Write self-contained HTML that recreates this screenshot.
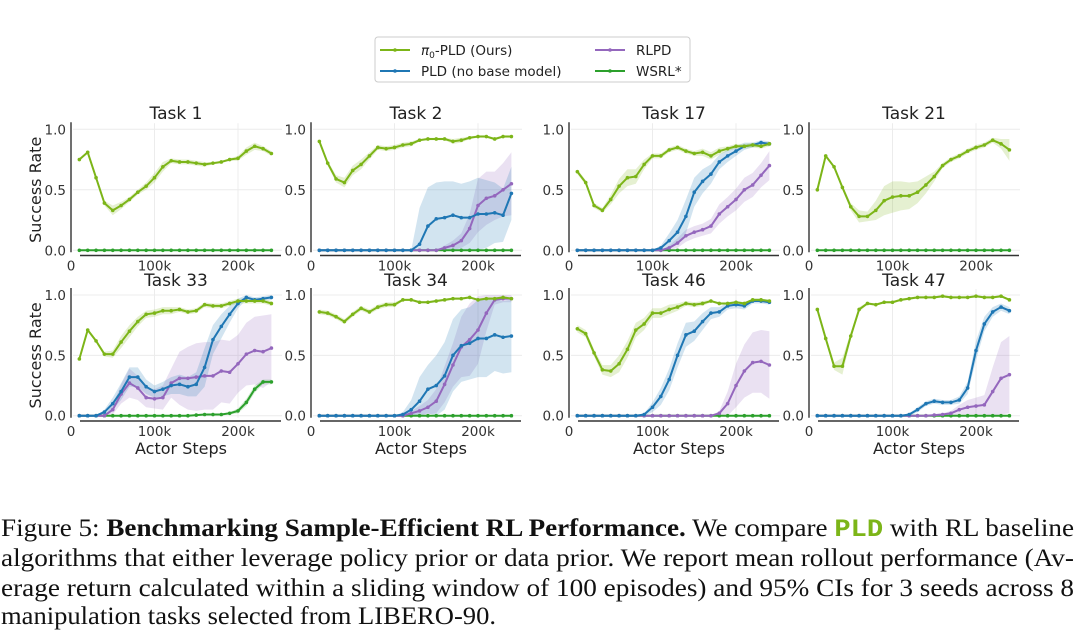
<!DOCTYPE html>
<html><head><meta charset="utf-8"><style>
html,body{margin:0;padding:0;background:#fff;}
svg{display:block;}
</style></head><body>
<svg id="fig" width="1080" height="630" viewBox="0 0 1080 630" xmlns="http://www.w3.org/2000/svg" font-family="'DejaVu Sans','Liberation Sans',sans-serif">
<g id="legend">
<rect x="375" y="37" width="315" height="45" rx="3" fill="#fff" stroke="#ccc" stroke-width="1"/>
<line x1="380" y1="50" x2="410" y2="50" stroke="#7cb518" stroke-width="2"/><circle cx="395" cy="50" r="1.8" fill="#7cb518"/>
<text x="421" y="55" font-size="13.5" fill="#222"><tspan font-style="italic">π</tspan><tspan font-size="9" dy="3">0</tspan><tspan dy="-3">-PLD (Ours)</tspan></text>
<line x1="380" y1="71" x2="410" y2="71" stroke="#1f77b4" stroke-width="2"/><circle cx="395" cy="71" r="1.8" fill="#1f77b4"/>
<text x="421" y="76" font-size="13.5" fill="#222">PLD (no base model)</text>
<line x1="595" y1="50" x2="625" y2="50" stroke="#9467bd" stroke-width="2"/><circle cx="610" cy="50" r="1.8" fill="#9467bd"/>
<text x="636" y="55" font-size="13.5" fill="#222">RLPD</text>
<line x1="595" y1="71" x2="625" y2="71" stroke="#2ca02c" stroke-width="2"/><circle cx="610" cy="71" r="1.8" fill="#2ca02c"/>
<text x="636" y="76" font-size="13.5" fill="#222">WSRL*</text>
</g>
<g id="panels"></g>
<g id="caption" font-family="'Liberation Serif',serif" font-size="25" fill="#111">
<text x="1" y="536" textLength="1073" lengthAdjust="spacingAndGlyphs">Figure 5: <tspan font-weight="bold">Benchmarking Sample-Efficient RL Performance.</tspan> We compare <tspan font-family="'Liberation Mono',monospace" font-weight="bold" fill="#7cb518">PLD</tspan> with RL baseline</text>
<text x="1" y="566" textLength="1073" lengthAdjust="spacingAndGlyphs">algorithms that either leverage policy prior or data prior. We report mean rollout performance (Av-</text>
<text x="1" y="596" textLength="1073" lengthAdjust="spacingAndGlyphs">erage return calculated within a sliding window of 100 episodes) and 95% CIs for 3 seeds across 8</text>
<text x="1" y="624" textLength="495" lengthAdjust="spacingAndGlyphs">manipulation tasks selected from LIBERO-90.</text>
</g>
</svg>
<script>
const steps = [10,20,30,40,50,60,70,80,90,100,110,120,130,140,150,160,170,180,190,200,210,220,230,240];
const tasks = ["Task 1","Task 2","Task 17","Task 21","Task 33","Task 34","Task 46","Task 47"];
const xTicks = [0,100,200];
const xTickLabels = ["0","100k","200k"];
const yTicks = [0,0.5,1.0];
const yTickLabels = ["0.0","0.5","1.0"];
const Z = [0,0,0,0,0,0,0,0,0,0,0,0,0,0,0,0,0,0,0,0,0,0,0,0];
const ZC = [0,0,0,0,0,0,0,0,0,0,0,0,0,0,0,0,0,0,0,0,0,0,0,0];
const ours = [
[0.75,0.81,0.6,0.39,0.33,0.37,0.42,0.48,0.53,0.6,0.69,0.74,0.73,0.73,0.72,0.71,0.72,0.73,0.75,0.76,0.82,0.86,0.84,0.80],
[0.9,0.72,0.59,0.56,0.66,0.71,0.78,0.85,0.84,0.85,0.87,0.88,0.91,0.92,0.92,0.92,0.90,0.91,0.93,0.94,0.94,0.92,0.94,0.94],
[0.65,0.56,0.37,0.33,0.42,0.53,0.60,0.61,0.71,0.78,0.78,0.83,0.85,0.82,0.80,0.81,0.78,0.82,0.84,0.86,0.86,0.87,0.86,0.88],
[0.5,0.78,0.69,0.52,0.36,0.28,0.28,0.33,0.41,0.44,0.45,0.45,0.48,0.54,0.61,0.7,0.75,0.78,0.82,0.85,0.87,0.91,0.88,0.83],
[0.47,0.71,0.62,0.51,0.51,0.61,0.70,0.78,0.84,0.85,0.87,0.87,0.88,0.86,0.87,0.92,0.91,0.91,0.93,0.95,0.95,0.95,0.95,0.93],
[0.86,0.85,0.82,0.78,0.84,0.89,0.86,0.9,0.92,0.92,0.96,0.96,0.94,0.94,0.95,0.96,0.97,0.97,0.98,0.96,0.97,0.97,0.98,0.97],
[0.72,0.68,0.52,0.38,0.37,0.43,0.55,0.71,0.76,0.85,0.85,0.88,0.90,0.93,0.92,0.93,0.95,0.93,0.93,0.94,0.93,0.96,0.96,0.95],
[0.88,0.64,0.41,0.41,0.66,0.88,0.93,0.92,0.94,0.94,0.96,0.97,0.98,0.98,0.98,0.99,0.98,0.98,0.98,0.99,0.98,0.98,0.99,0.96]];
const oursCI = [
[0.01,0.01,0.01,0.02,0.04,0.03,0.02,0.02,0.03,0.04,0.04,0.02,0.02,0.02,0.02,0.02,0.01,0.01,0.01,0.02,0.03,0.03,0.02,0.02],
[0.01,0.02,0.03,0.04,0.04,0.04,0.03,0.02,0.02,0.02,0.02,0.02,0.01,0.01,0.01,0.01,0.02,0.02,0.01,0.01,0.01,0.01,0.01,0.01],
[0.02,0.02,0.02,0.02,0.04,0.06,0.07,0.06,0.04,0.02,0.02,0.02,0.02,0.02,0.02,0.03,0.03,0.03,0.02,0.02,0.02,0.02,0.02,0.02],
[0.01,0.01,0.01,0.02,0.03,0.05,0.04,0.08,0.12,0.13,0.12,0.11,0.09,0.07,0.04,0.02,0.02,0.02,0.02,0.02,0.02,0.02,0.04,0.09],
[0.01,0.01,0.01,0.02,0.03,0.05,0.05,0.04,0.03,0.03,0.03,0.03,0.02,0.02,0.02,0.02,0.02,0.02,0.02,0.02,0.02,0.02,0.02,0.02],
[0.02,0.02,0.02,0.02,0.02,0.02,0.02,0.02,0.02,0.02,0.01,0.01,0.01,0.01,0.01,0.01,0.01,0.01,0.01,0.01,0.01,0.01,0.01,0.01],
[0.03,0.03,0.03,0.04,0.05,0.07,0.07,0.06,0.05,0.04,0.04,0.04,0.03,0.02,0.02,0.02,0.01,0.01,0.01,0.01,0.01,0.01,0.01,0.01],
[0.01,0.02,0.03,0.07,0.03,0.02,0.01,0.01,0.01,0.01,0.01,0.01,0.01,0.01,0.01,0.01,0.01,0.01,0.01,0.01,0.01,0.01,0.01,0.01]];
const pld = [
null,
[0,0,0,0,0,0,0,0,0,0,0,0,0.05,0.2,0.26,0.27,0.29,0.27,0.27,0.30,0.30,0.31,0.29,0.47],
[0,0,0,0,0,0,0,0,0,0,0.02,0.08,0.15,0.28,0.48,0.57,0.63,0.73,0.78,0.82,0.86,0.87,0.89,0.88],
null,
[0,0,0,0.03,0.1,0.2,0.32,0.32,0.24,0.2,0.22,0.25,0.26,0.24,0.26,0.4,0.63,0.74,0.84,0.93,0.98,0.96,0.97,0.98],
[0,0,0,0,0,0,0,0,0,0,0.01,0.05,0.12,0.22,0.25,0.33,0.5,0.58,0.6,0.64,0.64,0.67,0.65,0.66],
[0,0,0,0,0,0,0,0,0.01,0.07,0.16,0.3,0.5,0.67,0.7,0.78,0.85,0.86,0.91,0.92,0.91,0.95,0.95,0.94],
[0,0,0,0,0,0,0,0,0,0,0,0.01,0.05,0.1,0.12,0.11,0.11,0.13,0.23,0.54,0.76,0.86,0.9,0.87]];
const pldCI = [
null,
[0,0,0,0,0,0,0,0,0,0,0,0,0.3,0.32,0.3,0.3,0.28,0.28,0.3,0.3,0.28,0.25,0.22,0.22],
[0,0,0,0,0,0,0,0,0,0,0.02,0.06,0.1,0.14,0.12,0.1,0.08,0.06,0.05,0.04,0.03,0.02,0.02,0.02],
null,
[0,0,0,0.02,0.05,0.07,0.08,0.08,0.06,0.05,0.06,0.07,0.08,0.08,0.1,0.16,0.12,0.1,0.07,0.04,0.02,0.02,0.02,0.02],
[0,0,0,0,0,0,0,0,0,0,0.02,0.08,0.2,0.2,0.25,0.28,0.3,0.3,0.3,0.32,0.32,0.3,0.3,0.3],
[0,0,0,0,0,0,0,0,0.01,0.04,0.07,0.09,0.1,0.1,0.08,0.07,0.05,0.04,0.03,0.03,0.03,0.02,0.02,0.02],
[0,0,0,0,0,0,0,0,0,0,0,0.01,0.02,0.02,0.02,0.02,0.02,0.03,0.05,0.08,0.06,0.04,0.03,0.03]];
const rlpd = [
null,
[0,0,0,0,0,0,0,0,0,0,0,0,0,0,0,0.02,0.04,0.08,0.18,0.37,0.43,0.45,0.5,0.55],
[0,0,0,0,0,0,0,0,0,0,0,0.02,0.06,0.12,0.15,0.17,0.2,0.3,0.36,0.42,0.5,0.54,0.62,0.7],
null,
[0,0,0,0,0.05,0.18,0.27,0.23,0.15,0.14,0.15,0.27,0.31,0.31,0.32,0.33,0.33,0.37,0.36,0.43,0.51,0.54,0.53,0.56],
[0,0,0,0,0,0,0,0,0,0,0,0.02,0.04,0.07,0.12,0.26,0.42,0.57,0.63,0.71,0.85,0.96,0.97,0.97],
[0,0,0,0,0,0,0,0,0,0,0,0,0,0,0,0,0,0.02,0.1,0.25,0.37,0.44,0.45,0.42],
[0,0,0,0,0,0,0,0,0,0,0,0,0,0,0.005,0.01,0.02,0.05,0.07,0.08,0.09,0.2,0.31,0.34]];
const rlpdCI = [
null,
[0,0,0,0,0,0,0,0,0,0,0,0,0,0,0,0.02,0.04,0.06,0.12,0.22,0.22,0.2,0.22,0.26],
[0,0,0,0,0,0,0,0,0,0,0,0.02,0.04,0.05,0.05,0.05,0.06,0.08,0.08,0.09,0.1,0.1,0.1,0.12],
null,
[0,0,0,0,0.04,0.08,0.12,0.1,0.08,0.08,0.1,0.12,0.22,0.26,0.28,0.28,0.28,0.26,0.26,0.24,0.26,0.28,0.3,0.28],
[0,0,0,0,0,0,0,0,0,0,0,0.02,0.04,0.06,0.1,0.15,0.18,0.25,0.3,0.28,0.15,0.04,0.03,0.03],
[0,0,0,0,0,0,0,0,0,0,0,0,0,0,0,0,0,0.02,0.1,0.18,0.22,0.25,0.26,0.28],
[0,0,0,0,0,0,0,0,0,0,0,0,0,0,0.005,0.01,0.02,0.04,0.06,0.07,0.08,0.2,0.3,0.32]];
const wsrl = [Z,Z,Z,Z,
[0,0,0,0,0,0,0,0,0,0,0,0,0,0,0.005,0.01,0.01,0.01,0.02,0.04,0.11,0.22,0.28,0.28],
Z,Z,Z];
const wsrlCI = [ZC,ZC,ZC,ZC,
[0,0,0,0,0,0,0,0,0,0,0,0,0,0,0,0,0,0,0.01,0.02,0.03,0.03,0.02,0.02],
ZC,ZC,ZC];

const NS = "http://www.w3.org/2000/svg";
const panelX = [71,311,569,809];
const rowY = [{top:129.3,zero:250.3,spine:255.5},{top:295,zero:415.7,spine:421}];
const root = document.getElementById('panels');
function mk(tag, attrs, parent){const e=document.createElementNS(NS,tag);for(const k in attrs)e.setAttribute(k,attrs[k]);parent.appendChild(e);return e;}

tasks.forEach((t,i)=>{
  const r = Math.floor(i/4), c = i%4;
  const x0 = panelX[c], R = rowY[r];
  const sx = v => x0 + v*0.835;
  const sy = v => R.zero - v*(R.zero-R.top);
  const g = mk('g',{},root);
  
  
  yTicks.forEach((v,k)=>{
    const gl = mk('line',{x1:x0+2,x2:x0+211,y1:sy(v),y2:sy(v),stroke:'#ececec','stroke-width':1},g);
    
    
    const tl = mk('text',{x:x0-5,y:sy(v)+5,'font-size':13.5,'text-anchor':'end',fill:'#333'},g);
    tl.textContent = yTickLabels[k];
    
    
  });
  xTicks.forEach((v,k)=>{
    if(v>0){const gl=mk('line',{x1:sx(v),x2:sx(v),y1:R.top-6,y2:R.zero+2,stroke:'#ececec','stroke-width':1},g);
      
      }
    const tl = mk('text',{x:sx(v),y:R.spine+15,'font-size':13.5,'text-anchor':'middle',fill:'#333'},g);
    tl.textContent = xTickLabels[k];
    
    
  });
  const ls = mk('line',{x1:x0,x2:x0,y1:R.top-7,y2:R.zero+2,stroke:'#333','stroke-width':1.4},g);
  
  
  const bs = mk('line',{x1:x0+9,x2:x0+210,y1:R.spine,y2:R.spine,stroke:'#333','stroke-width':1.4},g);
  
  
  const tt = mk('text',{x:x0+105,y:r===0?119:286,'font-size':17,'text-anchor':'middle',fill:'#222'},g);
  tt.textContent = t;
  
  
  if(c===0){
    const yl = mk('text',{x:0,y:0,'font-size':16,'text-anchor':'middle',fill:'#222',transform:`translate(41,${(R.top+R.zero)/2}) rotate(-90)`},g);
    yl.textContent='Success Rate';
    
    
  }
  if(r===1){
    const xl = mk('text',{x:x0+110,y:454,'font-size':16,'text-anchor':'middle',fill:'#222'},g);
    xl.textContent='Actor Steps';
    
    
  }
  const series = [
    {vals:wsrl[i],ci:wsrlCI[i],col:'#2ca02c',name:'wsrl'},
    {vals:rlpd[i],ci:rlpdCI[i],col:'#9467bd',name:'rlpd'},
    {vals:pld[i],ci:pldCI[i],col:'#1f77b4',name:'pld'},
    {vals:ours[i],ci:oursCI[i],col:'#7cb518',name:'pi0-pld'}];
  series.forEach(s=>{
    if(!s.vals) return;
    const hi = s.vals.map((v,k)=>[sx(steps[k]),sy(Math.min(1.02,v+s.ci[k]))]);
    const lo = s.vals.map((v,k)=>[sx(steps[k]),sy(Math.max(0,v-s.ci[k]))]).reverse();
    const p = mk('polygon',{points:hi.concat(lo).map(q=>q.join(',')).join(' '),fill:s.col,'fill-opacity':0.2,stroke:'none'},g);
    
    
  });
  series.forEach(s=>{
    if(!s.vals) return;
    const pts = s.vals.map((v,k)=>sx(steps[k])+','+sy(v)).join(' ');
    const pl = mk('polyline',{points:pts,fill:'none',stroke:s.col,'stroke-width':2,'stroke-linejoin':'round'},g);
    
    
    s.vals.forEach((v,k)=>{
      const m = mk('circle',{cx:sx(steps[k]),cy:sy(v),r:1.8,fill:s.col},g);
      
      
    });
  });
});
</script>
</body></html>
